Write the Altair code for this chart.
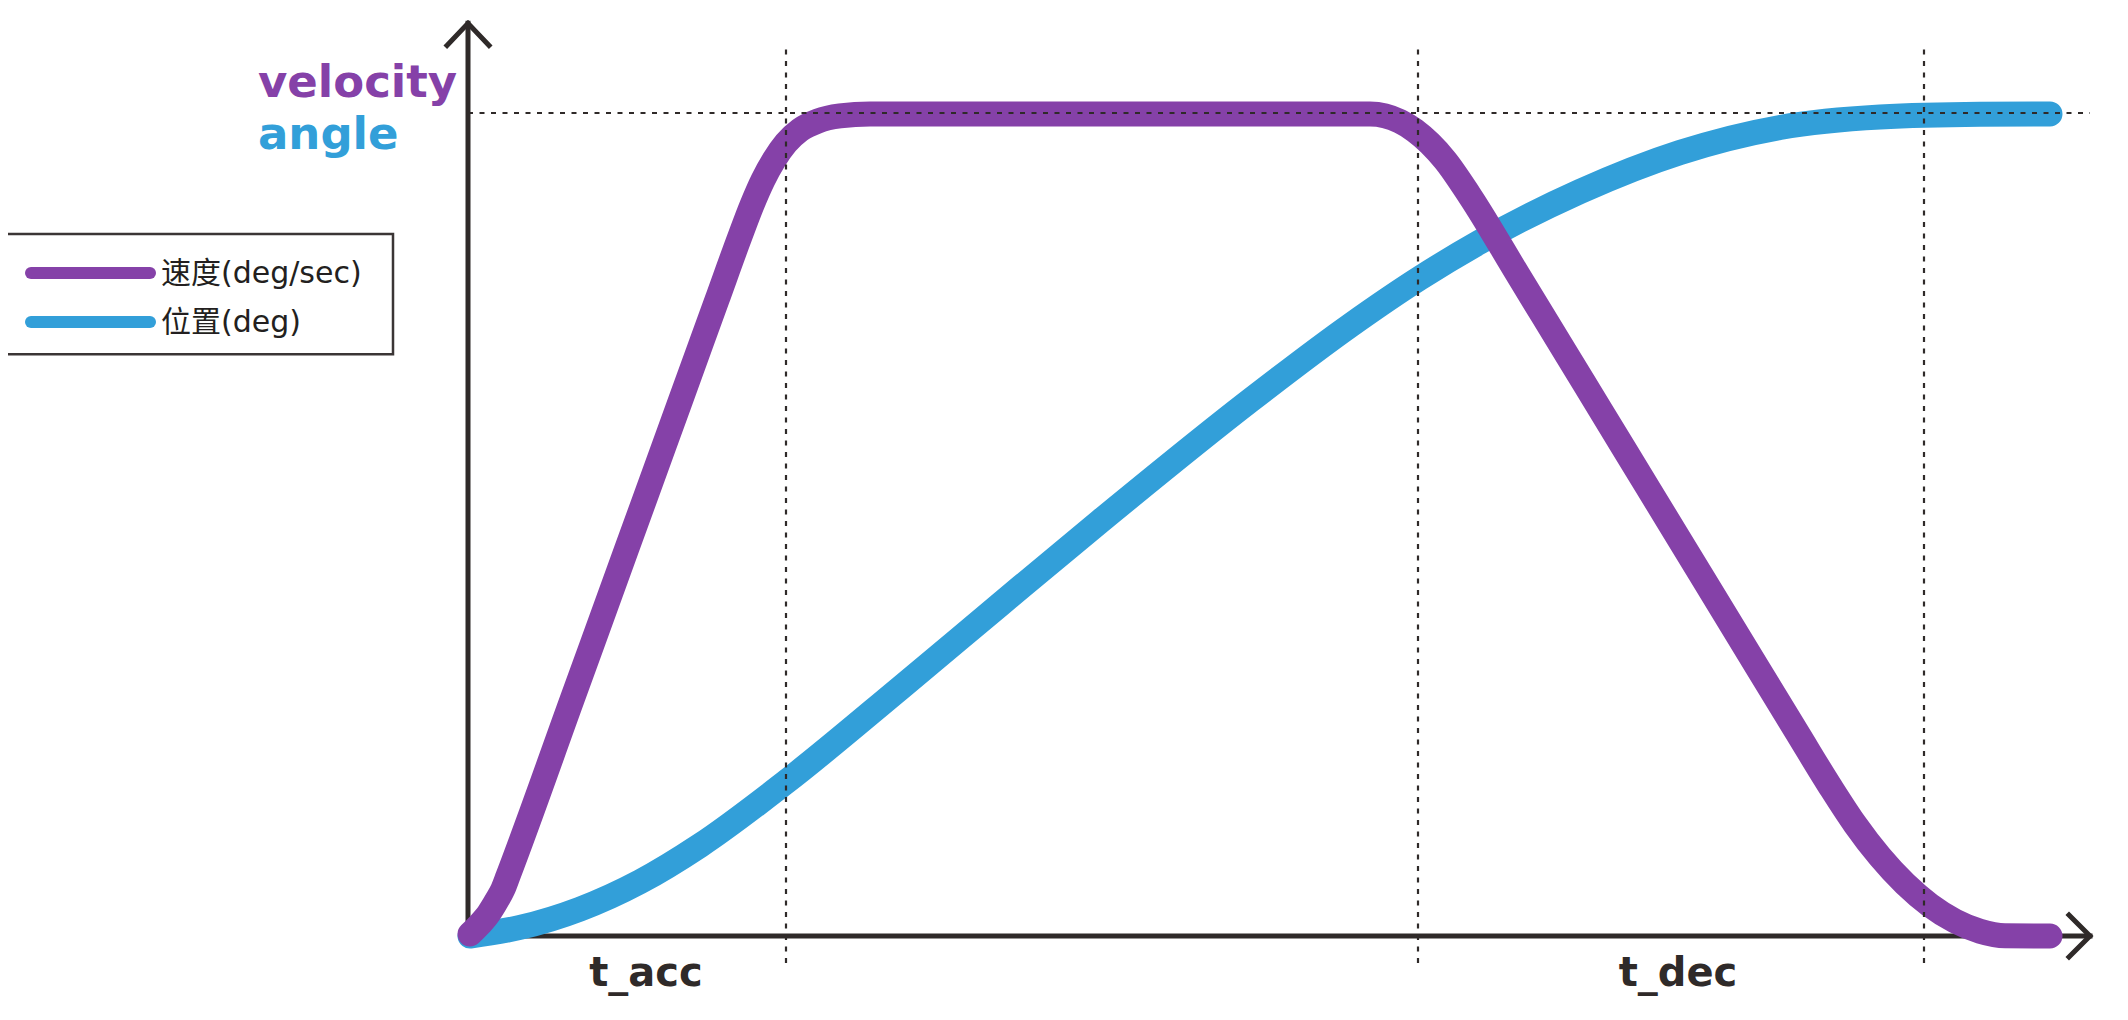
import altair as alt
import pandas as pd

PURPLE = "#8541a8"
BLUE = "#329fd9"
INK = "#2f2a29"

# velocity curve (time, deg/sec as % of max)
vel_t = [0.02, 0.12, 0.21, 0.29, 0.35, 0.40, 1.04, 1.40, 1.76, 2.12, 2.49, 2.72, 2.84, 2.95, 3.06, 3.18,
         3.32, 3.50, 3.72, 4.02, 6.32, 9.02, 9.17, 9.32, 9.47, 9.62, 9.77, 10.02, 10.50, 11.00,
         11.32, 11.80, 12.32, 12.90, 13.30, 13.62, 13.87, 14.12, 14.37, 14.62, 14.87, 15.12, 15.37, 15.82]
vel_v = [0.24, 1.46, 2.79, 4.37, 5.71, 7.29, 28.7, 40.77, 52.83, 64.9, 77.3, 85.01, 88.82, 91.86, 94.29, 96.35,
         97.93, 99.03, 99.64, 99.88, 99.88, 99.88, 99.66, 98.98, 97.86, 96.29, 94.28, 89.91, 80.34, 70.38,
         64.0, 54.44, 44.07, 32.51, 24.54, 18.2, 13.58, 9.62, 6.34, 3.74, 1.82, 0.58, 0.02, 0.0]

# angle curve (time, deg as % of max)
ang_t = [0.02, 0.52, 1.12, 1.72, 2.32, 3.18, 4.32, 5.32, 6.32, 7.82, 8.82, 9.52, 10.12, 11.12,
         12.12, 13.12, 14.12, 15.12, 15.82]
ang_v = [0.0, 1.04, 3.27, 6.59, 11.0, 18.72, 30.09, 40.27, 50.38, 65.05, 74.17, 79.95, 84.33, 90.46,
         95.2, 98.24, 99.51, 99.84, 99.88]

# guide lines
guide_t = [3.18, 9.50, 14.56]
guide_lo = -3.28
guide_hi = 108.0
max_level = 100
axis_end_t = 16.22

# axis polylines (id, order, t, v)
ax_id = ["axes", "axes", "axes", "yarrow", "yarrow", "yarrow", "xarrow", "xarrow", "xarrow"]
ax_ord = [0, 1, 2, 0, 1, 2, 0, 1, 2]
ax_t = [0, 0, 16.22, -0.21, 0, 0.21, 16.01, 16.22, 16.01]
ax_v = [110.9, 0, 0, 108.2, 110.9, 108.2, 2.55, 0, -2.55]

# labels
phase_labels = ["t_acc", "t_dec"]
phase_t = [1.78, 12.10]
phase_v = [-6.1, -6.1]

series_labels = ["velocity", "angle"]
series_colors = [PURPLE, BLUE]
series_t = [-2.10, -2.10]
series_v = [101.9, 95.6]

legend_labels = ["速度(deg/sec)", "位置(deg)"]
legend_colors = [PURPLE, BLUE]
legend_v = [80.56, 74.6]
legend_text_v = [79.34, 73.39]
legend_box = dict(t=-4.64, t2=-0.75, v=85.3, v2=70.7)
legend_sw = (-4.37, -3.18)
legend_text_t = -3.07

X = alt.Scale(domain=[0, 16.22], range=[460, 2082], nice=False, zero=False)
Y = alt.Scale(domain=[0, 100], range=[928, 105], nice=False, zero=False)


def xq(f="t"):
    return alt.X(f"{f}:Q", scale=X, axis=None)


def yq(f="v"):
    return alt.Y(f"{f}:Q", scale=Y, axis=None)


vel_df = pd.DataFrame({"t": vel_t, "v": vel_v})
ang_df = pd.DataFrame({"t": ang_t, "v": ang_v})
ax_df = pd.DataFrame({"id": ax_id, "o": ax_ord, "t": ax_t, "v": ax_v})
vg_df = pd.DataFrame({"t": guide_t, "v": [guide_lo] * 3, "v2": [guide_hi] * 3})
hg_df = pd.DataFrame({"t": [0], "t2": [axis_end_t], "v": [max_level]})
ph_df = pd.DataFrame({"t": phase_t, "v": phase_v, "label": phase_labels})
se_df = pd.DataFrame({"t": series_t, "v": series_v, "label": series_labels, "c": series_colors})
lb_df = pd.DataFrame([legend_box])
ls_df = pd.DataFrame({"t": [legend_sw[0]] * 2, "t2": [legend_sw[1]] * 2, "v": legend_v, "c": legend_colors})
lt_df = pd.DataFrame({"t": [legend_text_t] * 2, "v": legend_text_v, "label": legend_labels})

axes = alt.Chart(ax_df).mark_line(color=INK, strokeWidth=5, strokeJoin="miter", strokeCap="square").encode(
    x=xq(), y=yq(), detail="id:N", order="o:Q"
)

angle_line = alt.Chart(ang_df).mark_line(
    color=BLUE, strokeWidth=25, strokeCap="round", strokeJoin="round", interpolate="monotone"
).encode(x=xq(), y=yq())

vel_line = alt.Chart(vel_df).mark_line(
    color=PURPLE, strokeWidth=25, strokeCap="round", strokeJoin="round", interpolate="monotone"
).encode(x=xq(), y=yq())

vguides = alt.Chart(vg_df).mark_rule(color=INK, strokeWidth=2.2, strokeDash=[5, 6.5]).encode(
    x=xq(), y=yq(), y2="v2:Q"
)
hguide = alt.Chart(hg_df).mark_rule(color=INK, strokeWidth=2.2, strokeDash=[5, 6.5]).encode(
    x=xq(), x2="t2:Q", y=yq()
)

phase_text = alt.Chart(ph_df).mark_text(
    font="DejaVu Sans", fontWeight="bold", fontSize=40, color=INK, align="center", baseline="alphabetic"
).encode(x=xq(), y=yq(), text="label:N")

series_text = alt.Chart(se_df).mark_text(
    font="DejaVu Sans", fontWeight="bold", fontSize=45, align="left", baseline="alphabetic"
).encode(x=xq(), y=yq(), text="label:N", color=alt.Color("c:N", scale=None))

legend_rect = alt.Chart(lb_df).mark_rect(fill="white", stroke="#3b3535", strokeWidth=2.5).encode(
    x=xq(), x2="t2:Q", y=yq(), y2="v2:Q"
)
legend_sw_rules = alt.Chart(ls_df).mark_rule(strokeWidth=12, strokeCap="round").encode(
    x=xq(), x2="t2:Q", y=yq(), color=alt.Color("c:N", scale=None)
)
legend_text = alt.Chart(lt_df).mark_text(
    font="DejaVu Sans, Noto Sans CJK SC", fontSize=30, color="#231f20", align="left", baseline="alphabetic"
).encode(x=xq(), y=yq(), text="label:N")

chart = alt.layer(
    axes, angle_line, vel_line, vguides, hguide, phase_text, series_text,
    legend_rect, legend_sw_rules, legend_text
).properties(
    width=2112, height=1004, autosize=alt.AutoSizeParams(type="none"), padding=0, background="white"
).configure_view(stroke=None)

chart.save("out.html", embed_options={"renderer": "svg", "actions": False})
